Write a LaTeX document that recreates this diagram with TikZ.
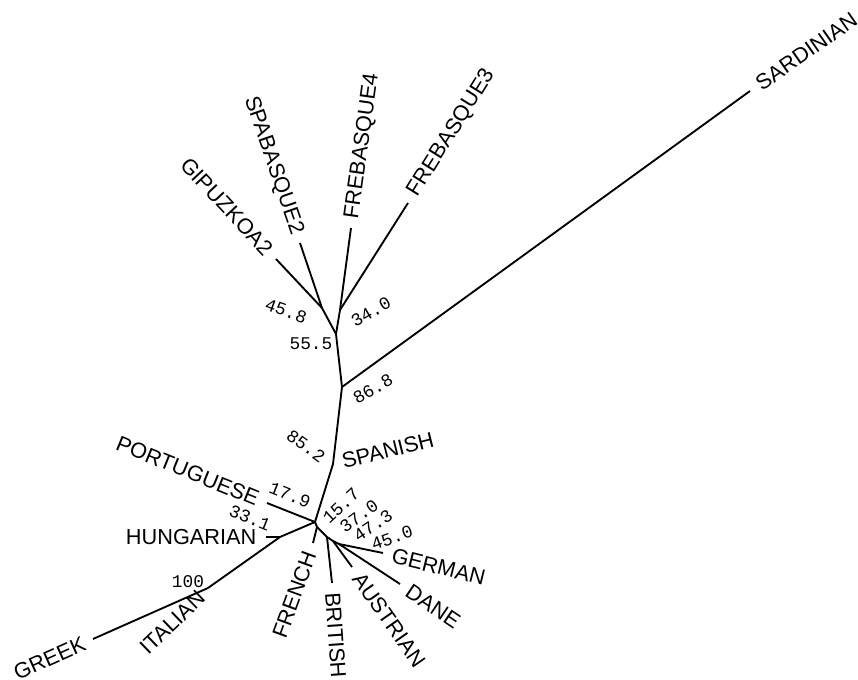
\documentclass[tikz,border=0pt]{standalone}
\usepackage{fontspec}
\newfontfamily\taxonfont{Liberation Sans}
\newfontfamily\bootfont{Liberation Mono}

\begin{document}
\begin{tikzpicture}[x=0.75pt, y=-0.75pt,
  branch/.style={line width=1.4pt},
  taxon/.style={font=\taxonfont\fontsize{16.3}{18}\selectfont, inner xsep=7pt, inner ysep=0pt},
  boot/.style={font=\bootfont\fontsize{13.4}{15}\selectfont, inner sep=0pt},
]
\useasboundingbox (0,0) rectangle (858,680);

% internal nodes
\coordinate (gs)   at (322,308);
\coordinate (ff)   at (340,310);
\coordinate (basq) at (336,334);
\coordinate (sard) at (342,387);
\coordinate (span) at (333,464);
\coordinate (hub)  at (315,522);
\coordinate (hung) at (280,537);
\coordinate (ital) at (208,588);
\coordinate (fren) at (317,527);
\coordinate (brit) at (327,537);
\coordinate (aust) at (333,541);
\coordinate (gerd) at (339,544);

% tips
\coordinate (tGip)  at (276,259);
\coordinate (tSpa)  at (300,243);
\coordinate (tFre4) at (351,228);
\coordinate (tFre3) at (408,203);
\coordinate (tSard) at (750,91);
\coordinate (tPort) at (267,503);
\coordinate (tHung) at (266,537);
\coordinate (tGrk)  at (93,639);
\coordinate (tFren) at (313,543);
\coordinate (tBrit) at (332,583);
\coordinate (tAust) at (352,567);
\coordinate (tDane) at (400,584);
\coordinate (tGerm) at (383,553);

%% branches
\foreach \a/\b in {gs/tGip, gs/tSpa, ff/tFre4, ff/tFre3, gs/basq, ff/basq,
                   basq/sard, sard/tSard, sard/span, span/hub, hub/tPort,
                   hub/hung, hung/tHung, hung/ital, ital/tGrk,
                   hub/fren, fren/tFren, fren/brit, brit/tBrit, brit/aust,
                   aust/tAust, aust/gerd, gerd/tDane, gerd/tGerm}
  \draw[branch] (\a) -- (\b);

%% taxa
\foreach \p/\r/\s/\t in {tGip/-47/east/GIPUZKOA2, tSpa/-71/east/SPABASQUE2,
                         tFre4/82/west/FREBASQUE4, tFre3/58/west/FREBASQUE3,
                         tSard/35/west/SARDINIAN, span/14/west/SPANISH,
                         tPort/-22/east/PORTUGUESE, tHung/0/east/HUNGARIAN,
                         ital/44/east/ITALIAN, tGrk/24/east/GREEK,
                         tFren/70/east/FRENCH, tBrit/-86/west/BRITISH,
                         tAust/-55/west/AUSTRIAN, tDane/-34/west/DANE,
                         tGerm/-14/west/GERMAN}
  \node[taxon, rotate=\r, anchor=\s] (n\p) at (\p) {\t};

%% bootstrap values
\node[boot, rotate=-20] (b458) at (286,311) {45.8};
\node[boot, rotate=30]  (b340) at (371,312) {34.0};
\node[boot]             (b555) at (311,344) {55.5};
\node[boot, rotate=30]  (b868) at (373,389) {86.8};
\node[boot, rotate=-36] (b852) at (306,446) {85.2};
\node[boot, rotate=-22] (b179) at (290,495) {17.9};
\node[boot, rotate=-22] (b331) at (250,518) {33.1};
\node[boot]             (b100) at (188,582) {100};
\node[boot, rotate=43]  (b157) at (341,506) {15.7};
\node[boot, rotate=36]  (b370) at (359,516) {37.0};
\node[boot, rotate=34]  (b473) at (373,526) {47.3};
\node[boot, rotate=20]  (b450) at (392,538) {45.0};

\end{tikzpicture}
\end{document}
